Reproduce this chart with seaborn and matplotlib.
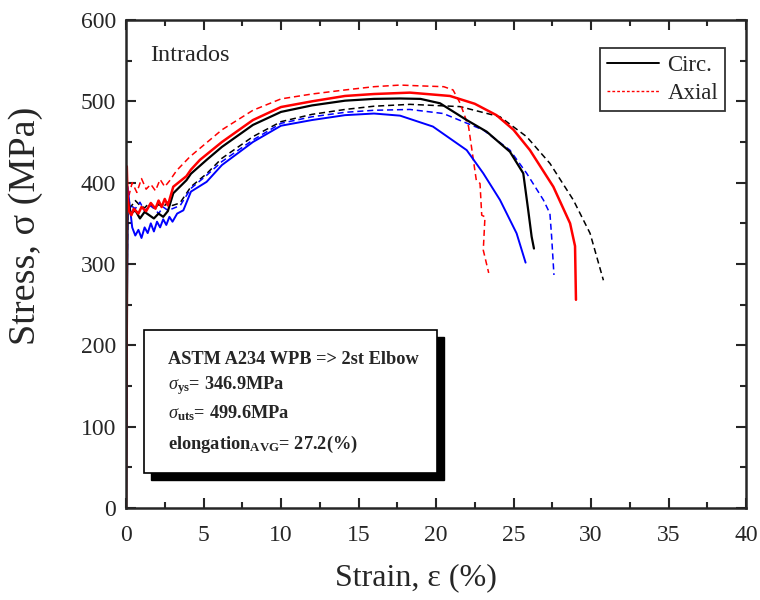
import numpy as np
import pandas as pd
import matplotlib
matplotlib.use("Agg")
import matplotlib.pyplot as plt
import seaborn as sns
from matplotlib.lines import Line2D
from matplotlib.patches import Rectangle
from matplotlib.ticker import MultipleLocator

# ---------------- data ----------------
red_solid_x = [0, 0.05, 0.1, 0.2, 0.35, 0.5, 0.8, 1.0, 1.3, 1.6, 1.9, 2.1, 2.3, 2.5, 2.7,
               3.05, 3.9, 4.19, 4.77, 6.19, 8.19, 10.0, 12.0, 14.13, 16.0, 18.32, 20.9,
               22.5, 23.9, 25.0, 26.06, 27.57, 28.65, 28.97, 29.03]
red_solid_y = [0, 420, 385, 365, 360, 368, 362, 370, 365, 375, 368, 378, 370, 380, 372,
               395, 408, 416, 428, 450, 477, 493, 500, 506.6, 509, 510.7, 506.6,
               497, 483, 465, 440, 395, 350, 322, 256]

red_dash_x = [0, 0.08, 0.2, 0.4, 0.7, 1.0, 1.3, 1.6, 1.9, 2.2, 2.5, 2.8, 3.27, 4.13, 6.19,
              8.19, 10.0, 12.0, 14.13, 16.0, 17.68, 19.0, 20.5, 21.1, 21.55, 22.1, 22.6,
              22.84, 22.95, 23.16, 23.05, 23.4]
red_dash_y = [0, 395, 385, 400, 388, 405, 392, 398, 390, 404, 395, 402, 415, 432, 465,
              489, 503, 509, 514, 518, 520, 519, 518, 514, 498, 469, 403,
              399, 360, 358, 317, 289]

black_solid_x = [0, 0.1, 0.3, 0.6, 0.9, 1.2, 1.5, 1.8, 2.1, 2.4, 2.7, 3.05, 3.9, 4.19, 5.2,
                 6.19, 8.19, 10.0, 12.0, 14.13, 16.0, 17.68, 19.0, 20.26, 21.98, 23.27,
                 24.77, 25.63, 25.95, 26.17, 26.32]
black_solid_y = [0, 380, 362, 366, 356, 364, 360, 356, 362, 358, 365, 387, 403, 411, 428,
                 444, 471, 487, 495, 500.8, 503, 503.5, 503, 497.6, 477, 462.7,
                 438, 411.5, 366, 333.6, 319]

black_dash_x = [0, 0.1, 0.3, 0.6, 0.9, 1.2, 1.5, 1.8, 2.1, 2.4, 2.7, 3.0, 3.48, 4.19, 5.2,
                6.19, 8.19, 10.0, 12.0, 14.13, 16.0, 18.32, 21.55, 24.13, 25.85, 27.35,
                28.86, 29.94, 30.8]
black_dash_y = [0, 375, 370, 378, 372, 369, 375, 368, 373, 370, 376, 372, 375, 395, 411,
                430, 456.6, 475, 484, 490, 494, 496.3, 493.5, 481, 456.5, 423.7,
                378.7, 337.7, 280]

blue_solid_x = [0, 0.1, 0.25, 0.4, 0.6, 0.8, 1.0, 1.2, 1.4, 1.6, 1.8, 2.0, 2.2, 2.4, 2.6,
                2.8, 3.0, 3.3, 3.7, 4.19, 5.2, 6.19, 8.19, 10.0, 12.0, 14.13, 16.0, 17.68,
                19.8, 21.98, 23.05, 24.13, 25.2, 25.78]
blue_solid_y = [0, 395, 370, 345, 335, 342, 332, 345, 338, 350, 340, 352, 345, 355, 348,
                358, 352, 362, 366, 389, 401, 421.7, 450, 470, 477, 483, 485, 482.4,
                469, 440, 411.5, 378.7, 337.7, 301.7]

blue_dash_x = [0, 0.1, 0.3, 0.6, 0.9, 1.2, 1.5, 1.8, 2.1, 2.4, 2.7, 3.0, 3.5, 4.19, 5.2,
               6.19, 8.19, 10.0, 12.0, 14.13, 16.0, 18.32, 20.47, 23.05, 24.77, 25.85,
               26.93, 27.35, 27.46, 27.61]
blue_dash_y = [0, 380, 372, 368, 376, 365, 372, 369, 362, 370, 366, 368, 372, 393, 409,
               426, 452.5, 473, 481, 486.5, 489, 490, 485, 464.8, 440, 411.5,
               378.7, 362, 333.6, 286.5]

legend_labels = ["Circ.", "Axial"]
panel_title = "Intrados"
box_lines = ["ASTM A234 WPB => 2st Elbow",
             r"$\sigma_{\mathbf{ys}}$= 346.9MPa",
             r"$\sigma_{\mathbf{uts}}$= 499.6MPa",
             r"elongation$_{\mathbf{AVG}}$= 27.2(%)"]

# ---------------- style ----------------
sns.set_style("ticks")
plt.rcParams["font.family"] = ["Liberation Serif", "DejaVu Serif"]
plt.rcParams["mathtext.fontset"] = "custom"
plt.rcParams["mathtext.rm"] = "Liberation Serif"
plt.rcParams["mathtext.it"] = "Liberation Serif:italic"
plt.rcParams["mathtext.bf"] = "Liberation Serif:bold"

fig = plt.figure(figsize=(7.6, 6.0), dpi=100)
ax = fig.add_axes([126 / 760, 92 / 600, 620 / 760, 488 / 600])

curves = [
    (black_dash_x, black_dash_y, "black", (0, (4, 2.5)), 1.1),
    (blue_dash_x, blue_dash_y, "#0000ff", (0, (4, 2.5)), 1.1),
    (red_dash_x, red_dash_y, "#ff0000", (0, (4, 2.5)), 1.1),
    (blue_solid_x, blue_solid_y, "#0000ff", "-", 1.4),
    (black_solid_x, black_solid_y, "black", "-", 1.6),
    (red_solid_x, red_solid_y, "#ff0000", "-", 1.8),
]
for xs, ys, c, ls, lw in curves:
    df = pd.DataFrame({"strain": xs, "stress": ys})
    sns.lineplot(data=df, x="strain", y="stress", sort=False, estimator=None,
                 color=c, linestyle=ls, linewidth=lw, ax=ax)

ax.set_xlim(0, 40)
ax.set_ylim(0, 600)
ax.xaxis.set_major_locator(MultipleLocator(5))
ax.xaxis.set_minor_locator(MultipleLocator(2.5))
ax.yaxis.set_major_locator(MultipleLocator(100))
ax.yaxis.set_minor_locator(MultipleLocator(50))
ax.tick_params(which="both", direction="in", top=True, right=True, width=1.5)
ax.tick_params(which="major", length=7, labelsize=17)
ax.tick_params(axis="x", which="major", pad=12)
ax.tick_params(axis="y", which="major", pad=7)
ax.tick_params(which="minor", length=4)
for s in ax.spines.values():
    s.set_linewidth(1.8)
    s.set_visible(True)

ax.set_xlabel("Strain, \u03b5 (%)", fontsize=23)
ax.set_ylabel("Stress, \u03c3 (MPa)", fontsize=27.5)
ax.xaxis.set_label_coords((416 - 126) / 620, (508 - 563) / 488)
ax.yaxis.set_label_coords((43 - 126) / 620, (508 - 226) / 488)

ax.text(0.039, 0.948, panel_title, transform=ax.transAxes, fontsize=17.5,
        ha="left", va="top")

handles = [Line2D([], [], color="black", linestyle="-", linewidth=1.4),
           Line2D([], [], color="#ff0000", linestyle=(0, (2, 1.5)), linewidth=1.0)]
leg = ax.legend(handles, legend_labels, loc="upper right",
                bbox_to_anchor=((725 - 126) / 620, (508 - 48) / 488),
                borderaxespad=0, fontsize=16.5, frameon=True,
                fancybox=False, edgecolor="black", handlelength=2.3,
                borderpad=0.3, labelspacing=0.3, handletextpad=0.35)
leg.get_frame().set_linewidth(1.3)

# annotation box with shadow
bx0, bx1 = 18 / 620, 311 / 620
by0, by1 = 35 / 488, 178 / 488
dx, dy = 7 / 620, 7 / 488
ax.add_patch(Rectangle((bx0 + dx, by0 - dy), bx1 - bx0, by1 - by0,
                       transform=ax.transAxes, facecolor="black",
                       edgecolor="black", zorder=5))
ax.add_patch(Rectangle((bx0, by0), bx1 - bx0, by1 - by0,
                       transform=ax.transAxes, facecolor="white",
                       edgecolor="black", linewidth=1.2, zorder=6))
line_y = [359, 386, 413, 444]
for txt, py in zip(box_lines, line_y):
    ax.text(42 / 620, (508 - py) / 488, txt, transform=ax.transAxes,
            fontsize=13.2, fontweight="bold", ha="left", va="center", zorder=7)

fig.savefig("out.png", dpi=100)
